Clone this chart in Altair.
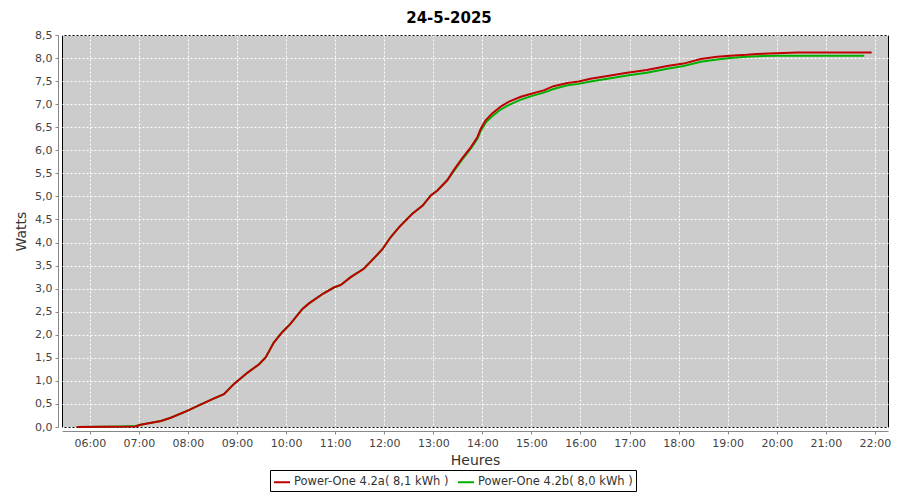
import altair as alt
import pandas as pd

# Series A: Power-One 4.2a
times_a = ["05:44","06:56","07:02","07:27","07:39","07:59","08:16","08:32","08:44","08:56",
           "09:13","09:27","09:35","09:45","09:55","10:05","10:20","10:28","10:46","10:59",
           "11:07","11:19","11:35","11:47","11:58","12:08","12:18","12:34","12:47","12:57",
           "13:05","13:17","13:25","13:35","13:46","13:54","13:58","14:04","14:12","14:22",
           "14:32","14:47","15:01","15:15","15:27","15:44","15:58","16:12","16:33","16:57",
           "17:21","17:46","18:06","18:27","18:47","19:03","19:23","19:36","20:25","21:56"]
values_a = [0, 0.01, 0.05, 0.13, 0.2, 0.35, 0.49, 0.62, 0.71, 0.93,
            1.18, 1.36, 1.51, 1.83, 2.05, 2.23, 2.56, 2.68, 2.90, 3.03,
            3.08, 3.25, 3.43, 3.65, 3.86, 4.12, 4.33, 4.62, 4.80, 5.02,
            5.13, 5.35, 5.57, 5.82, 6.07, 6.29, 6.47, 6.65, 6.80, 6.94,
            7.05, 7.16, 7.23, 7.30, 7.39, 7.46, 7.49, 7.55, 7.61, 7.68,
            7.74, 7.83, 7.88, 7.98, 8.03, 8.05, 8.07, 8.09, 8.12, 8.12]

# Series B: Power-One 4.2b
times_b = ["05:44","06:36","06:56","07:02","07:27","07:39","07:59","08:16","08:32","08:44","08:56",
           "09:13","09:27","09:35","09:45","09:55","10:05","10:20","10:28","10:46","10:59",
           "11:07","11:19","11:35","11:47","11:58","12:08","12:18","12:34","12:47","12:57",
           "13:05","13:17","13:25","13:35","13:46","13:54","13:58","14:04","14:12","14:22",
           "14:32","14:47","15:01","15:15","15:27","15:44","15:58","16:12","16:33","16:57",
           "17:21","17:46","18:06","18:27","18:47","19:03","19:23","19:36","20:00","21:47"]
values_b = [0, 0.01, 0.02, 0.05, 0.13, 0.2, 0.35, 0.49, 0.62, 0.71, 0.93,
            1.18, 1.36, 1.51, 1.83, 2.05, 2.23, 2.56, 2.68, 2.90, 3.03,
            3.08, 3.25, 3.43, 3.65, 3.86, 4.12, 4.33, 4.62, 4.80, 5.02,
            5.13, 5.35, 5.55, 5.79, 6.04, 6.25, 6.42, 6.60, 6.74, 6.88,
            6.98, 7.10, 7.18, 7.25, 7.33, 7.41, 7.44, 7.49, 7.55, 7.62,
            7.68, 7.77, 7.83, 7.92, 7.97, 8.00, 8.03, 8.04, 8.05, 8.05]

tick_hours = list(range(6, 23))
y_ticks = [i * 0.5 for i in range(18)]

series_names = ["Power-One 4.2a( 8,1 kWh )", "Power-One 4.2b( 8,0 kWh )"]
series_colors = ["#C00000", "#00B000"]

date = "2025-05-24T"
df_a = pd.DataFrame({"t": [date + t + ":00" for t in times_a], "v": values_a, "s": series_names[0]})
df_b = pd.DataFrame({"t": [date + t + ":00" for t in times_b], "v": values_b, "s": series_names[1]})

x_values = [alt.DateTime(year=2025, month=5, date=24, hours=h) for h in tick_hours]

x_enc = alt.X("t:T",
              scale=alt.Scale(domain=[alt.DateTime(year=2025, month=5, date=24, hours=5, minutes=26),
                                      alt.DateTime(year=2025, month=5, date=24, hours=22, minutes=16)]),
              axis=alt.Axis(title="Heures", format="%H:%M", values=x_values,
                            offset=4, tickSize=3, labelPadding=3, titlePadding=5,
                            labelFontSize=11, titleFontSize=14, titleFontWeight="normal"))
y_enc = alt.Y("v:Q",
              scale=alt.Scale(domain=[0, 8.5], nice=False),
              axis=alt.Axis(title="Watts", values=y_ticks,
                            labelExpr="replace(format(datum.value, '.1f'), '.', ',')",
                            offset=4, tickSize=3, labelPadding=3, titlePadding=6,
                            labelFontSize=11, titleFontSize=14, titleFontWeight="normal"))
color_enc = alt.Color("s:N",
                      scale=alt.Scale(domain=series_names, range=series_colors),
                      legend=alt.Legend(title=None, orient="none", legendX=208, legendY=435,
                                        direction="horizontal", symbolType="stroke",
                                        symbolStrokeWidth=2, symbolSize=256,
                                        labelFontSize=11.5, labelLimit=400, strokeColor="black",
                                        padding=3, columnPadding=5, labelOffset=3,
                                        labelColor="#333333"))

line_b = alt.Chart(df_b).mark_line(strokeWidth=2).encode(x=x_enc, y=y_enc, color=color_enc)
line_a = alt.Chart(df_a).mark_line(strokeWidth=2).encode(x=x_enc, y=y_enc, color=color_enc)

chart = alt.layer(line_b, line_a).properties(
    width=826, height=392,
    title=alt.Title("24-5-2025", fontSize=15, fontWeight="bold", font="DejaVu Sans",
                    color="black", offset=3, dx=-26),
    autosize=alt.AutoSizeParams(type="none"),
    padding={"left": 54, "top": 27, "right": 4, "bottom": 65},
).configure(
    font="DejaVu Sans",
).configure_view(
    fill="#CCCCCC", stroke="black", strokeWidth=1,
).configure_axis(
    gridColor="white", gridDash=[2, 2], gridWidth=1, gridOpacity=1,
    domainColor="#888888", tickColor="#888888",
    labelColor="#444444", titleColor="#333333", labelFont="DejaVu Sans", titleFont="DejaVu Sans",
)

chart.save("out.html", embed_options={"renderer": "svg", "actions": False})
